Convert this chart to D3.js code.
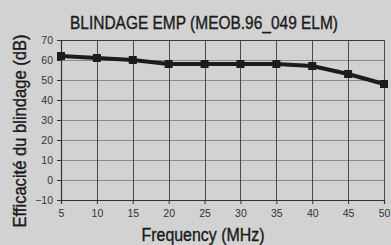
<!DOCTYPE html>
<html>
<head>
<meta charset="utf-8">
<script src="https://cdn.jsdelivr.net/npm/d3@7"></script>
<style>
  html, body { margin: 0; padding: 0; background: #d2d2d2; }
  svg { display: block; }
</style>
</head>
<body>
<div id="chart"></div>
<script>
// values
const frequencies = [5, 10, 15, 20, 25, 30, 35, 40, 45, 50];
const shielding = [62, 61, 60, 58, 58, 58, 58, 57, 53, 48];
const xTicks = [5, 10, 15, 20, 25, 30, 35, 40, 45, 50];
const yTicks = [-10, 0, 10, 20, 30, 40, 50, 60, 70];
const title = 'BLINDAGE EMP (MEOB.96_049 ELM)';
const xLabel = 'Frequency (MHz)';
const yLabel = 'Efficacité du blindage (dB)';

const W = 391, H = 245;
const margin = { top: 40, right: 7, bottom: 45, left: 61 };
const width = W - margin.left - margin.right;
const height = H - margin.top - margin.bottom;
const font = '"Liberation Sans", Arial, sans-serif';

const svg = d3.select('#chart')
  .append('svg')
  .attr('width', W)
  .attr('height', H);

svg.append('rect')
  .attr('width', W).attr('height', H)
  .attr('fill', '#d2d2d2');

const g = svg.append('g')
  .attr('transform', 'translate(' + margin.left + ',' + margin.top + ')');

const x = d3.scaleLinear().domain([5, 50]).range([0, width]);
const y = d3.scaleLinear().domain([-10, 70]).range([height, 0]);

// horizontal grid (lighter)
g.selectAll('.hgrid')
  .data(yTicks)
  .enter()
  .append('line')
  .attr('class', 'hgrid')
  .attr('x1', 0).attr('x2', width)
  .attr('y1', d => y(d) + 0.5).attr('y2', d => y(d) + 0.5)
  .attr('stroke', '#8a8a8a')
  .attr('stroke-width', 1);

// vertical grid (darker)
g.selectAll('.vgrid')
  .data(xTicks)
  .enter()
  .append('line')
  .attr('class', 'vgrid')
  .attr('x1', d => Math.round(x(d)) + 0.5).attr('x2', d => Math.round(x(d)) + 0.5)
  .attr('y1', 0).attr('y2', height)
  .attr('stroke', '#4a4a4a')
  .attr('stroke-width', 1);

// frame top
g.append('line')
  .attr('x1', 0).attr('x2', width)
  .attr('y1', 0.5).attr('y2', 0.5)
  .attr('stroke', '#3a3a3a');

// axes
const xAxis = d3.axisBottom(x).tickValues(xTicks).tickSize(4).tickPadding(6);
const yAxis = d3.axisLeft(y).tickValues(yTicks).tickSize(4).tickPadding(4);

const gx = g.append('g')
  .attr('transform', 'translate(0,' + height + ')')
  .call(xAxis);
const gy = g.append('g').call(yAxis);

[gx, gy].forEach(a => {
  a.select('.domain').attr('stroke', '#333').attr('stroke-width', 1.2);
  a.selectAll('.tick line').attr('stroke', '#333');
  a.selectAll('.tick text')
    .attr('fill', '#333')
    .style('font-family', font)
    .style('font-size', '10.5px');
});

// line
const line = d3.line()
  .x((d, i) => x(frequencies[i]))
  .y(d => y(d));

g.append('path')
  .datum(shielding)
  .attr('d', line)
  .attr('fill', 'none')
  .attr('stroke', '#1c1c1c')
  .attr('stroke-width', 4)
  .attr('stroke-linejoin', 'round');

// square markers
g.selectAll('.marker')
  .data(shielding)
  .enter()
  .append('rect')
  .attr('class', 'marker')
  .attr('x', (d, i) => x(frequencies[i]) - 4)
  .attr('y', d => y(d) - 4)
  .attr('width', 8)
  .attr('height', 8)
  .attr('fill', '#1c1c1c');

// title and axis labels (condensed to match the narrow face)
function label(sel, txt, len) {
  return sel.append('text')
    .attr('text-anchor', 'middle')
    .attr('textLength', len)
    .attr('lengthAdjust', 'spacingAndGlyphs')
    .style('font-family', font)
    .style('font-size', '17.5px')
    .attr('fill', '#1a1a1a')
    .attr('stroke', '#1a1a1a')
    .attr('stroke-width', 0.35)
    .text(txt);
}

label(svg, title, 268).attr('x', 204).attr('y', 29);
label(svg, xLabel, 123).attr('x', 203).attr('y', 241);
label(svg, yLabel, 193).attr('transform', 'translate(26,131) rotate(-90)');
</script>
</body>
</html>
